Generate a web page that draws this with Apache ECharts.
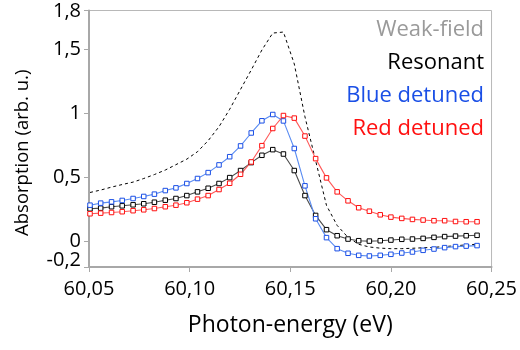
<!DOCTYPE html>
<html>
<head>
<meta charset="utf-8">
<script src="https://cdn.jsdelivr.net/npm/echarts@6/dist/echarts.min.js"></script>
<style>
  html, body { margin: 0; padding: 0; background: #fff; }
  #chart { width: 520px; height: 350px; }
</style>
</head>
<body>
<div id="chart"></div>
<script>
// Photon energy of each measured point (eV)
const energy = [
  60.0505, 60.0558, 60.0612, 60.0665, 60.0719, 60.0772, 60.0825, 60.0879,
  60.0932, 60.0986, 60.1039, 60.1092, 60.1146, 60.1199, 60.1253, 60.1306,
  60.1359, 60.1413, 60.1466, 60.1520, 60.1573, 60.1626, 60.1680, 60.1733,
  60.1787, 60.1840, 60.1893, 60.1947, 60.2000, 60.2054, 60.2107, 60.2160,
  60.2214, 60.2267, 60.2321, 60.2374, 60.2428
];

// Absorption spectra (arb. u.)
const weakField = [
  0.381, 0.400, 0.423, 0.443, 0.462, 0.490, 0.521, 0.556,
  0.598, 0.641, 0.699, 0.785, 0.894, 1.030, 1.185, 1.336,
  1.492, 1.624, 1.632, 1.383, 0.971, 0.629, 0.280, 0.124,
  0.031, -0.023, -0.044, -0.053, -0.057, -0.057, -0.054, -0.050,
  -0.047, -0.040, -0.035, -0.027, -0.023
];
const resonant = [
  0.254, 0.259, 0.270, 0.277, 0.285, 0.293, 0.305, 0.321,
  0.334, 0.357, 0.386, 0.414, 0.451, 0.497, 0.552, 0.614,
  0.671, 0.715, 0.681, 0.552, 0.357, 0.202, 0.091, 0.044,
  0.018, 0.005, 0.002, 0.005, 0.010, 0.016, 0.018, 0.023,
  0.031, 0.037, 0.041, 0.044, 0.047
];
const blueDetuned = [
  0.282, 0.298, 0.308, 0.319, 0.334, 0.350, 0.368, 0.396,
  0.417, 0.451, 0.490, 0.536, 0.596, 0.660, 0.744, 0.845,
  0.940, 0.989, 0.939, 0.724, 0.433, 0.176, 0.029, -0.057,
  -0.093, -0.109, -0.114, -0.109, -0.101, -0.091, -0.083, -0.070,
  -0.060, -0.049, -0.041, -0.037, -0.033
];
const redDetuned = [
  0.215, 0.220, 0.225, 0.231, 0.239, 0.246, 0.256, 0.270,
  0.282, 0.301, 0.329, 0.357, 0.404, 0.453, 0.523, 0.619,
  0.746, 0.880, 0.981, 0.961, 0.821, 0.645, 0.495, 0.386,
  0.316, 0.262, 0.235, 0.207, 0.189, 0.179, 0.171, 0.166,
  0.161, 0.161, 0.155, 0.153, 0.153
];

// Axis ticks
const yMin = -0.2;
const yMax = 1.8;
const yTicks = [-0.2, 0, 0.5, 1, 1.5, 1.8];
const yTickLabels = ['-0,2', '0', '0,5', '1', '1,5', '1,8'];

const FONT = '"Open Sans", "Noto Sans", sans-serif';
const FS = 20;

const pairs = (ys) => energy.map((x, i) => [x, ys[i]]);
const yLabelOf = (v) => {
  const i = yTicks.findIndex((t) => Math.abs(t - v) < 1e-9);
  return i >= 0 ? yTickLabels[i] : '';
};

const markerSeries = (name, values, lineColor, markColor) => ({
  name: name,
  type: 'line',
  data: pairs(values),
  symbol: 'rect',
  symbolSize: 4.5,
  showSymbol: true,
  lineStyle: { color: lineColor, width: 1.1 },
  itemStyle: { color: '#ffffff', borderColor: markColor, borderWidth: 1 },
  emphasis: { disabled: true },
  z: 3
});

const yLabelStyle = { fontFamily: FONT, fontSize: FS, color: '#000', lineHeight: 12 };
const axisGrey = '#a8a8a8';

const chart = echarts.init(document.getElementById('chart'), null, { renderer: 'canvas' });

chart.setOption({
  animation: false,
  backgroundColor: '#ffffff',
  textStyle: { fontFamily: FONT },
  grid: {
    left: 89, right: 28, top: 9, bottom: 83,
    show: true, borderColor: '#b8b8b8', borderWidth: 1,
    backgroundColor: 'transparent'
  },
  legend: {
    orient: 'vertical',
    right: 31,
    top: 18,
    align: 'right',
    padding: 0,
    itemWidth: 0,
    itemHeight: 0,
    itemGap: 9,
    icon: 'none',
    selectedMode: false,
    textStyle: { fontFamily: FONT, fontSize: 22, lineHeight: 24 },
    data: [
      { name: 'Weak-field', textStyle: { color: '#9a9a9a' } },
      { name: 'Resonant', textStyle: { color: '#000000' } },
      { name: 'Blue detuned', textStyle: { color: '#1a4fe6' } },
      { name: 'Red detuned', textStyle: { color: '#ff1010' } }
    ]
  },
  xAxis: {
    type: 'value',
    min: 60.05,
    max: 60.25,
    interval: 0.05,
    name: 'Photon-energy (eV)',
    nameLocation: 'middle',
    nameGap: 47,
    nameTextStyle: { fontFamily: FONT, fontSize: 23, color: '#000' },
    axisLine: { show: true, onZero: false, lineStyle: { color: axisGrey, width: 2 } },
    axisTick: { show: true, inside: false, length: 5, lineStyle: { color: axisGrey, width: 1 } },
    axisLabel: {
      margin: 12,
      fontFamily: FONT, fontSize: FS, color: '#000',
      formatter: (v) => v.toFixed(2).replace('.', ',')
    },
    splitLine: { show: false }
  },
  yAxis: [
    {
      type: 'value',
      min: yMin,
      max: yMax,
      name: 'Absorption (arb. u.)',
      nameLocation: 'middle',
      nameGap: 57,
      nameTextStyle: { fontFamily: FONT, fontSize: 18.5, color: '#000', padding: [0, 28, 0, 0] },
      axisLine: { show: true, onZero: false, lineStyle: { color: axisGrey, width: 2 } },
      axisTick: {
        show: true, inside: false, length: 5,
        customValues: yTicks,
        lineStyle: { color: axisGrey, width: 1 }
      },
      axisLabel: {
        margin: 8,
        showMaxLabel: true,
        fontFamily: FONT, fontSize: FS, color: '#000', lineHeight: 12,
        customValues: yTicks.slice(1),
        formatter: (v) => {
          const txt = yLabelOf(v);
          return Math.abs(v - yMax) < 1e-9 ? '{hi|' + txt + '}' : '{n|' + txt + '}';
        },
        rich: {
          n: yLabelStyle,
          hi: Object.assign({}, yLabelStyle, { padding: [1, 0, 0, 0] })
        }
      },
      splitLine: { show: false }
    },
    {
      // carries only the bottom label, lifted slightly above its tick
      type: 'value',
      min: yMin,
      max: yMax,
      position: 'left',
      axisLine: { show: false },
      axisTick: { show: false },
      axisLabel: {
        margin: 8,
        showMinLabel: true,
        fontFamily: FONT, fontSize: FS, color: '#000', lineHeight: 12,
        customValues: [yTicks[0]],
        formatter: (v) => '{lo|' + yLabelOf(v) + '}',
        rich: { lo: Object.assign({}, yLabelStyle, { padding: [0, 0, 13, 0] }) }
      },
      splitLine: { show: false }
    }
  ],
  series: [
    {
      name: 'Weak-field',
      type: 'line',
      data: pairs(weakField),
      symbol: 'none',
      showSymbol: false,
      lineStyle: { color: '#000000', width: 1, type: [3, 3] },
      itemStyle: { color: '#9a9a9a' },
      emphasis: { disabled: true },
      z: 2
    },
    markerSeries('Resonant', resonant, '#4a4a4a', '#000000'),
    markerSeries('Blue detuned', blueDetuned, '#5a8cf2', '#1a4fe6'),
    markerSeries('Red detuned', redDetuned, '#ff5a5a', '#ff1010')
  ]
});
</script>
</body>
</html>
